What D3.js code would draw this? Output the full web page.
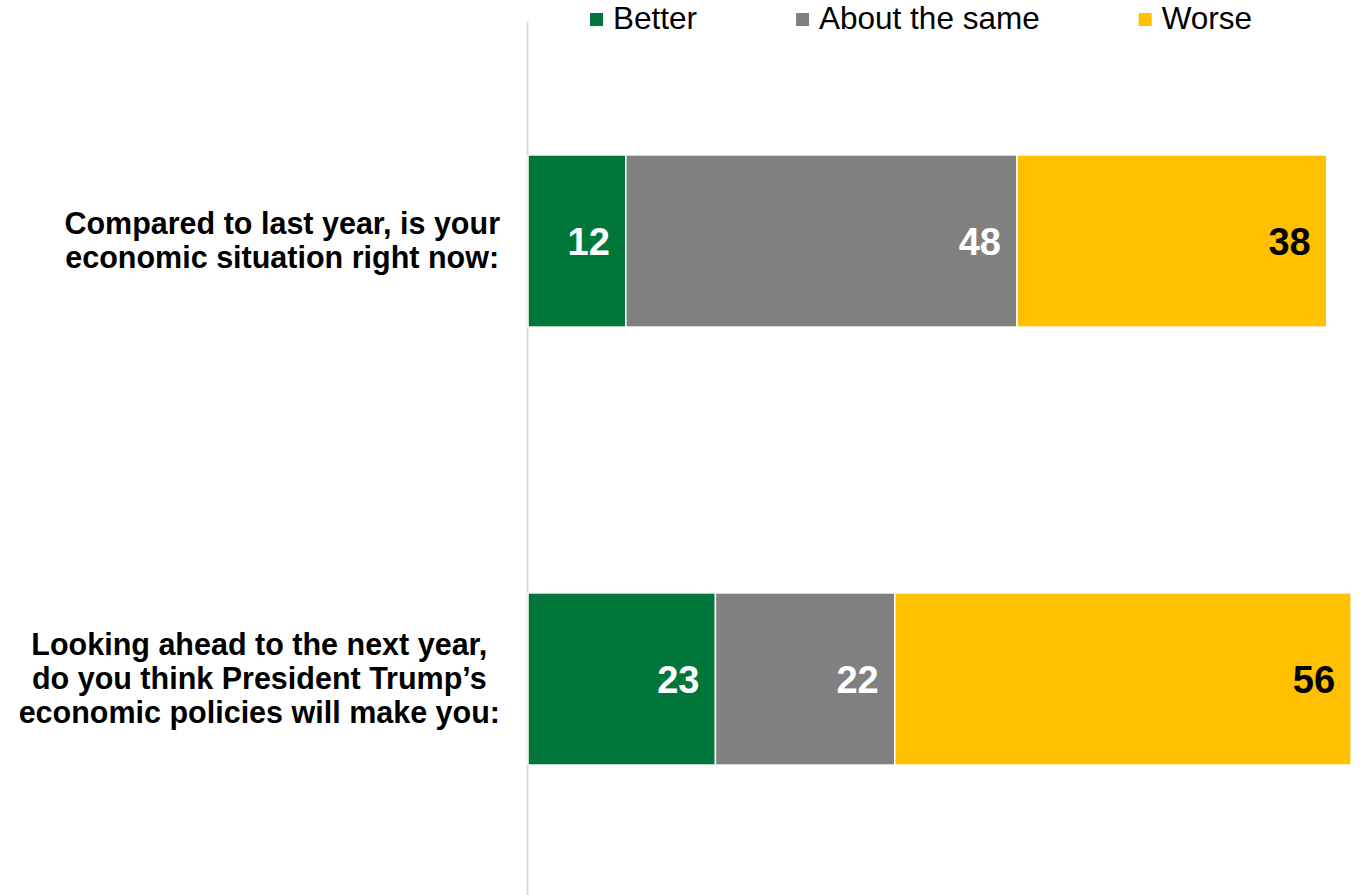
<!DOCTYPE html>
<html>
<head>
<meta charset="utf-8">
<script src="https://cdn.jsdelivr.net/npm/d3@7/dist/d3.min.js"></script>
<style>
  html, body { margin: 0; padding: 0; background: #ffffff; }
  svg { display: block; font-family: "Liberation Sans", Arial, sans-serif; }
</style>
</head>
<body>
<svg id="chart" width="1360" height="895"></svg>
<script>
// ---- data ----
const categories = [
  ["Compared to last year, is your", "economic situation right now:"],
  ["Looking ahead to the next year,", "do you think President Trump\u2019s", "economic policies will make you:"]
];
const seriesNames = ["Better", "About the same", "Worse"];
const betterValues = [12, 23];
const sameValues = [48, 22];
const worseValues = [38, 56];
const seriesColors = ["#00763A", "#808080", "#FFC000"];
const labelColors = ["#ffffff", "#ffffff", "#000000"];

// ---- layout ----
const W = 1360, H = 895;
const svg = d3.select("#chart");
const catIds = categories.map((d, i) => i);
const seriesValues = [betterValues, sameValues, worseValues];

const x = d3.scaleLinear().domain([0, 100]).range([528, 1343]);
const y = d3.scaleBand().domain(catIds).range([22, 898]).paddingInner(0.607).paddingOuter(0.3035);

// stacked data
const rows = catIds.map(i => {
  const o = { id: i };
  seriesNames.forEach((s, k) => o[s] = seriesValues[k][i]);
  return o;
});
const stack = d3.stack().keys(seriesNames)(rows);

// axis line
svg.append("line")
  .attr("x1", x(0) - 0.5).attr("x2", x(0) - 0.5)
  .attr("y1", 22).attr("y2", H)
  .attr("stroke", "#d9d9d9").attr("stroke-width", 2);

// bars
stack.forEach((layer, k) => {
  const g = svg.append("g");
  g.selectAll("rect").data(layer).enter().append("rect")
    .attr("x", d => x(d[0]))
    .attr("y", d => y(d.data.id))
    .attr("width", d => x(d[1]) - x(d[0]))
    .attr("height", y.bandwidth())
    .attr("fill", seriesColors[k])
    .attr("stroke", "#ffffff")
    .attr("stroke-width", 1.5);
  g.selectAll("text").data(layer).enter().append("text")
    .attr("x", d => x(d[1]) - 16)
    .attr("y", d => y(d.data.id) + y.bandwidth() / 2)
    .attr("dy", "0.37em")
    .attr("text-anchor", "end")
    .attr("font-size", 38)
    .attr("font-weight", "bold")
    .attr("fill", labelColors[k])
    .text(d => d.data[seriesNames[k]]);
});

// category labels (block right-aligned at 500, lines centered inside block)
const lh = 34, fs = 30.5;
categories.forEach((lines, i) => {
  const g = svg.append("g");
  const texts = lines.map((ln, j) => g.append("text")
    .attr("font-size", fs).attr("font-weight", "bold").attr("fill", "#000")
    .attr("text-anchor", "middle")
    .attr("y", y(i) + y.bandwidth() / 2 + (j - (lines.length - 1) / 2) * lh + 0.34 * fs)
    .text(ln));
  const maxW = d3.max(texts, t => t.node().getComputedTextLength());
  texts.forEach(t => t.attr("x", 500 - maxW / 2));
});

// legend
let lx = 590;
seriesNames.forEach((s, k) => {
  svg.append("rect").attr("x", lx).attr("y", 13).attr("width", 13).attr("height", 13)
    .attr("fill", seriesColors[k]);
  const t = svg.append("text").attr("x", lx + 23).attr("y", 29)
    .attr("font-size", 31.5).attr("fill", "#000").text(s);
  lx = lx + 23 + t.node().getComputedTextLength() + 99;
});
</script>
</body>
</html>
